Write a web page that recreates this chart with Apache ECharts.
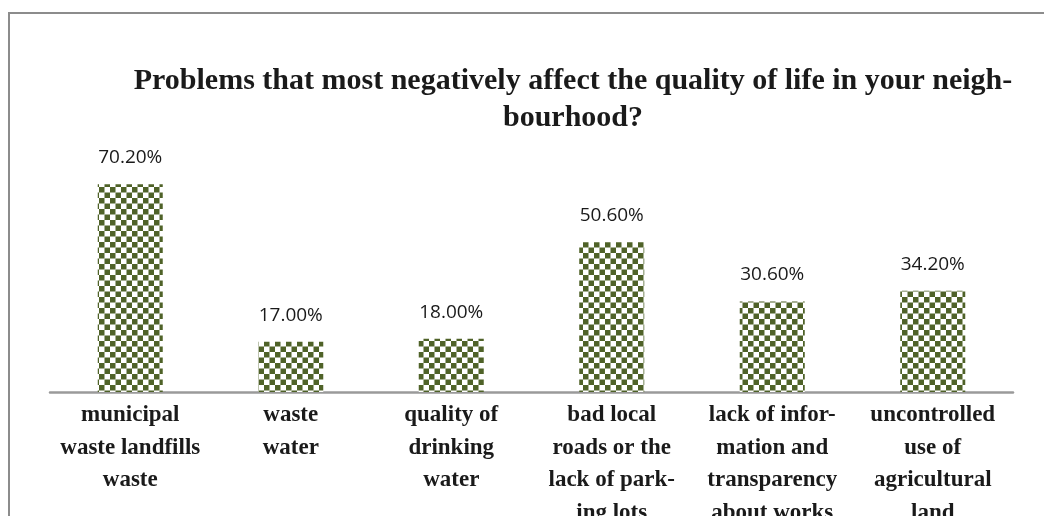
<!DOCTYPE html>
<html>
<head>
<meta charset="utf-8">
<script src="https://cdn.jsdelivr.net/npm/echarts@6/dist/echarts.min.js"></script>
<style>
  html, body { margin: 0; padding: 0; background: #ffffff; }
  #chart { width: 1044px; height: 516px; }
</style>
</head>
<body>
<div id="chart"></div>
<script>
// Survey categories (line breaks follow the printed hyphenation)
const categories = [
  'municipal\nwaste landfills\nwaste',
  'waste\nwater',
  'quality of\ndrinking\nwater',
  'bad local\nroads or the\nlack of park-\ning lots',
  'lack of infor-\nmation and\ntransparency\nabout works',
  'uncontrolled\nuse of\nagricultural\nland'
];
// Share of respondents, percent
const values = [70.2, 17.0, 18.0, 50.6, 30.6, 34.2];

const titleText = 'Problems that most negatively affect the quality of life in your neigh-\nbourhood?';

// Olive checkerboard fill for the bars
function checkerTile() {
  const c = document.createElement('canvas');
  const s = 5.5;
  c.width = 11; c.height = 11;
  const ctx = c.getContext('2d');
  ctx.fillStyle = '#ffffff';
  ctx.fillRect(0, 0, 11, 11);
  ctx.fillStyle = '#4f6228';
  ctx.fillRect(0, 0, s, s);
  ctx.fillRect(s, s, s, s);
  return c;
}

const chart = echarts.init(document.getElementById('chart'), null, { renderer: 'canvas' });

chart.setOption({
  backgroundColor: '#ffffff',
  animation: false,
  title: {
    text: titleText,
    left: 568,
    top: 58,
    textAlign: 'center',
    textStyle: {
      fontFamily: 'Liberation Serif',
      fontWeight: 'bold',
      fontSize: 30,
      lineHeight: 37,
      color: '#1a1a1a'
    }
  },
  graphic: [
    {
      type: 'polyline',
      silent: true,
      shape: { points: [[9, 516], [9, 13], [1044, 13]] },
      style: { stroke: '#8c8c8c', lineWidth: 2, fill: null }
    }
  ],
  grid: { left: 50, right: 31, top: 96, height: 296, outerBoundsMode: 'none', containLabel: false },
  xAxis: {
    type: 'category',
    data: categories,
    axisLine: { show: true, lineStyle: { color: '#9a9a9a', width: 2.5 } },
    axisTick: { show: false },
    axisLabel: {
      interval: 0,
      margin: 7,
      fontFamily: 'Liberation Serif',
      fontWeight: 'bold',
      fontSize: 23,
      lineHeight: 32.5,
      color: '#1a1a1a'
    }
  },
  yAxis: {
    type: 'value',
    min: 0,
    max: 100,
    show: false,
    splitLine: { show: false }
  },
  series: [
    {
      type: 'bar',
      data: values,
      barWidth: 65,
      itemStyle: {
        color: { image: checkerTile(), repeat: 'repeat' }
      },
      label: {
        show: true,
        position: 'top',
        distance: 17,
        formatter: p => p.value.toFixed(2) + '%',
        fontFamily: 'Open Sans',
        fontSize: 19,
        color: '#1a1a1a'
      }
    }
  ]
});
</script>
</body>
</html>
